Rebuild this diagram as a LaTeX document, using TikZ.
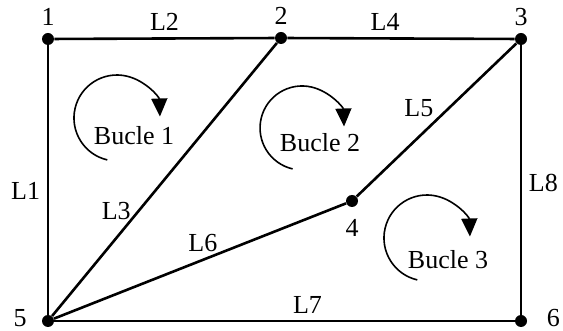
\documentclass[tikz,border=0pt]{standalone}
\usepackage{fontspec}
\setmainfont{Liberation Serif}
\usetikzlibrary{arrows.meta}
\tikzset{
  nudo/.style={circle, fill=black, inner sep=0pt, minimum size=6pt},
  rama/.style={line width=1.3pt},
  bucle/.style={line width=0.8pt, -{Triangle[length=9pt,width=8pt]}},
}
\begin{document}
\begin{tikzpicture}[x=0.5pt, y=-0.5pt, font=\fontsize{13}{15}\selectfont]
    \useasboundingbox (0,0) rectangle (563,331);
    % nudos de la red
    \node[nudo, label=above:1] (n1) at (48,39) {};
    \node[nudo, label=above:2] (n2) at (281,38) {};
    \node[nudo, label=above:3] (n3) at (521,39) {};
    \node[nudo, label={[label distance=2.7pt]below:4}] (n4) at (352,201) {};
    \node[nudo, label={[label distance=6.3pt, yshift=1.5pt, inner sep=1pt]left:5}] (n5) at (48,321) {};
    \node[nudo, label={[label distance=8.5pt, yshift=1.5pt, inner sep=1pt]right:6}] (n6) at (521,321) {};

    \draw[rama] (n5) -- node[left, pos=0.46] {L1} (n1);
    \draw[rama] (n1) -- node[above] {L2} (n2);
    \draw[rama] (n5) -- node[left, pos=0.385] {L3} (n2);
    \draw[rama] (n2) -- node[above, pos=0.43] {L4} (n3);
    \draw[rama] (n3) -- node[left=4pt, pos=0.42] {L5} (n4);
    \draw[rama] (n5) -- node[above, pos=0.51] {L6} (n4);
    \draw[rama] (n5) -- node[above, pos=0.55] {L7} (n6);
    \draw[rama] (n3) -- node[right, pos=0.51] {L8} (n6);

    \node (b1) at (134,136) {Bucle 1};
    \node (b2) at (320,143) {Bucle 2};
    \node (b3) at (448,260) {Bucle 3};
    \draw[bucle] (107.3,159.9) arc[start angle=103, end angle=358, radius=43];
    \draw[bucle] (292.6,168.9) arc[start angle=103, end angle=358, radius=42];
    \draw[bucle] (417.3,279.9) arc[start angle=103, end angle=358, radius=43];
\end{tikzpicture}
\end{document}
